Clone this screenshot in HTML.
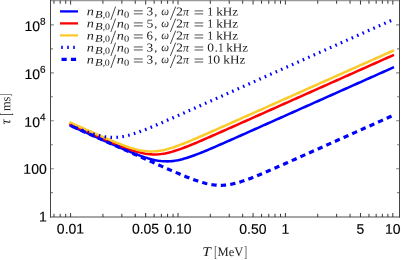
<!DOCTYPE html>
<html><head><meta charset="utf-8"><title>plot</title>
<style>html,body{margin:0;padding:0;background:#fff;}body{width:401px;height:260px;overflow:hidden;position:relative;font-family:"Liberation Sans",sans-serif;}</style>
</head><body>
<svg width="401" height="260" viewBox="0 0 401 260" style="position:absolute;left:0;top:0;will-change:transform">
<rect x="0" y="0" width="401" height="260" fill="#fff"/>
<path d="M70.60 125.70 L72.75 126.66 L74.90 127.61 L77.04 128.57 L79.19 129.53 L81.34 130.49 L83.49 131.44 L85.64 132.40 L87.78 133.36 L89.93 134.31 L92.08 135.27 L94.23 136.22 L96.38 137.18 L98.52 138.13 L100.67 139.08 L102.82 140.03 L104.97 140.98 L107.12 141.93 L109.26 142.88 L111.41 143.82 L113.56 144.76 L115.71 145.70 L117.86 146.63 L120.00 147.56 L122.15 148.48 L124.30 149.39 L126.45 150.29 L128.60 151.19 L130.74 152.07 L132.89 152.94 L135.04 153.79 L137.19 154.61 L139.34 155.42 L141.48 156.19 L143.63 156.94 L145.78 157.64 L147.93 158.31 L150.08 158.92 L152.22 159.48 L154.37 159.97 L156.52 160.40 L158.67 160.76 L160.82 161.04 L162.96 161.23 L165.11 161.34 L167.26 161.36 L169.41 161.29 L171.56 161.14 L173.70 160.90 L175.85 160.58 L178.00 160.19 L180.15 159.72 L182.30 159.19 L184.44 158.60 L186.59 157.96 L188.74 157.28 L190.89 156.55 L193.04 155.79 L195.18 155.00 L197.33 154.18 L199.48 153.34 L201.63 152.48 L203.78 151.61 L205.92 150.72 L208.07 149.82 L210.22 148.91 L212.37 147.99 L214.52 147.07 L216.66 146.14 L218.81 145.20 L220.96 144.27 L223.11 143.32 L225.26 142.38 L227.40 141.43 L229.55 140.48 L231.70 139.53 L233.85 138.58 L236.00 137.63 L238.14 136.67 L240.29 135.72 L242.44 134.76 L244.59 133.81 L246.74 132.85 L248.88 131.90 L251.03 130.94 L253.18 129.98 L255.33 129.02 L257.48 128.07 L259.62 127.11 L261.77 126.15 L263.92 125.19 L266.07 124.24 L268.22 123.28 L270.36 122.32 L272.51 121.36 L274.66 120.40 L276.81 119.45 L278.96 118.49 L281.10 117.53 L283.25 116.57 L285.40 115.61 L287.55 114.65 L289.70 113.70 L291.84 112.74 L293.99 111.78 L296.14 110.82 L298.29 109.86 L300.44 108.90 L302.58 107.95 L304.73 106.99 L306.88 106.03 L309.03 105.07 L311.18 104.11 L313.32 103.15 L315.47 102.19 L317.62 101.24 L319.77 100.28 L321.92 99.32 L324.06 98.36 L326.21 97.40 L328.36 96.44 L330.51 95.49 L332.66 94.53 L334.80 93.57 L336.95 92.61 L339.10 91.65 L341.25 90.69 L343.40 89.74 L345.54 88.78 L347.69 87.82 L349.84 86.86 L351.99 85.90 L354.14 84.94 L356.28 83.99 L358.43 83.03 L360.58 82.07 L362.73 81.11 L364.88 80.15 L367.02 79.19 L369.17 78.23 L371.32 77.28 L373.47 76.32 L375.62 75.36 L377.76 74.40 L379.91 73.44 L382.06 72.48 L384.21 71.53 L386.36 70.57 L388.50 69.61 L390.65 68.65 L392.80 67.69" fill="none" stroke="#0000ff" stroke-width="2.55" stroke-linejoin="round" stroke-linecap="square"/>
<path d="M70.60 124.17 L72.75 125.13 L74.90 126.08 L77.04 127.04 L79.19 128.00 L81.34 128.95 L83.49 129.91 L85.64 130.86 L87.78 131.81 L89.93 132.76 L92.08 133.71 L94.23 134.66 L96.38 135.61 L98.52 136.55 L100.67 137.49 L102.82 138.43 L104.97 139.37 L107.12 140.29 L109.26 141.22 L111.41 142.13 L113.56 143.04 L115.71 143.94 L117.86 144.83 L120.00 145.70 L122.15 146.55 L124.30 147.39 L126.45 148.20 L128.60 148.99 L130.74 149.75 L132.89 150.47 L135.04 151.14 L137.19 151.77 L139.34 152.35 L141.48 152.87 L143.63 153.33 L145.78 153.71 L147.93 154.02 L150.08 154.24 L152.22 154.38 L154.37 154.43 L156.52 154.40 L158.67 154.27 L160.82 154.06 L162.96 153.77 L165.11 153.40 L167.26 152.96 L169.41 152.45 L171.56 151.89 L173.70 151.26 L175.85 150.59 L178.00 149.88 L180.15 149.13 L182.30 148.35 L184.44 147.54 L186.59 146.71 L188.74 145.86 L190.89 144.99 L193.04 144.10 L195.18 143.21 L197.33 142.30 L199.48 141.39 L201.63 140.47 L203.78 139.54 L205.92 138.60 L208.07 137.67 L210.22 136.73 L212.37 135.78 L214.52 134.84 L216.66 133.89 L218.81 132.94 L220.96 131.99 L223.11 131.03 L225.26 130.08 L227.40 129.13 L229.55 128.17 L231.70 127.22 L233.85 126.26 L236.00 125.30 L238.14 124.35 L240.29 123.39 L242.44 122.43 L244.59 121.47 L246.74 120.52 L248.88 119.56 L251.03 118.60 L253.18 117.64 L255.33 116.69 L257.48 115.73 L259.62 114.77 L261.77 113.81 L263.92 112.85 L266.07 111.89 L268.22 110.94 L270.36 109.98 L272.51 109.02 L274.66 108.06 L276.81 107.10 L278.96 106.14 L281.10 105.19 L283.25 104.23 L285.40 103.27 L287.55 102.31 L289.70 101.35 L291.84 100.39 L293.99 99.44 L296.14 98.48 L298.29 97.52 L300.44 96.56 L302.58 95.60 L304.73 94.64 L306.88 93.69 L309.03 92.73 L311.18 91.77 L313.32 90.81 L315.47 89.85 L317.62 88.89 L319.77 87.94 L321.92 86.98 L324.06 86.02 L326.21 85.06 L328.36 84.10 L330.51 83.14 L332.66 82.19 L334.80 81.23 L336.95 80.27 L339.10 79.31 L341.25 78.35 L343.40 77.39 L345.54 76.43 L347.69 75.48 L349.84 74.52 L351.99 73.56 L354.14 72.60 L356.28 71.64 L358.43 70.68 L360.58 69.73 L362.73 68.77 L364.88 67.81 L367.02 66.85 L369.17 65.89 L371.32 64.93 L373.47 63.98 L375.62 63.02 L377.76 62.06 L379.91 61.10 L382.06 60.14 L384.21 59.18 L386.36 58.23 L388.50 57.27 L390.65 56.31 L392.80 55.35" fill="none" stroke="#ff0000" stroke-width="2.55" stroke-linejoin="round" stroke-linecap="square"/>
<path d="M70.60 122.69 L72.75 123.64 L74.90 124.60 L77.04 125.56 L79.19 126.51 L81.34 127.46 L83.49 128.42 L85.64 129.37 L87.78 130.32 L89.93 131.27 L92.08 132.22 L94.23 133.16 L96.38 134.11 L98.52 135.04 L100.67 135.98 L102.82 136.91 L104.97 137.84 L107.12 138.76 L109.26 139.67 L111.41 140.57 L113.56 141.46 L115.71 142.34 L117.86 143.20 L120.00 144.05 L122.15 144.87 L124.30 145.67 L126.45 146.44 L128.60 147.17 L130.74 147.87 L132.89 148.52 L135.04 149.12 L137.19 149.66 L139.34 150.14 L141.48 150.56 L143.63 150.89 L145.78 151.15 L147.93 151.33 L150.08 151.42 L152.22 151.42 L154.37 151.33 L156.52 151.15 L158.67 150.89 L160.82 150.56 L162.96 150.14 L165.11 149.66 L167.26 149.12 L169.41 148.52 L171.56 147.87 L173.70 147.17 L175.85 146.44 L178.00 145.67 L180.15 144.87 L182.30 144.05 L184.44 143.20 L186.59 142.34 L188.74 141.46 L190.89 140.57 L193.04 139.67 L195.18 138.76 L197.33 137.84 L199.48 136.91 L201.63 135.98 L203.78 135.04 L205.92 134.11 L208.07 133.16 L210.22 132.22 L212.37 131.27 L214.52 130.32 L216.66 129.37 L218.81 128.42 L220.96 127.46 L223.11 126.51 L225.26 125.56 L227.40 124.60 L229.55 123.64 L231.70 122.69 L233.85 121.73 L236.00 120.77 L238.14 119.82 L240.29 118.86 L242.44 117.90 L244.59 116.95 L246.74 115.99 L248.88 115.03 L251.03 114.07 L253.18 113.11 L255.33 112.16 L257.48 111.20 L259.62 110.24 L261.77 109.28 L263.92 108.32 L266.07 107.36 L268.22 106.41 L270.36 105.45 L272.51 104.49 L274.66 103.53 L276.81 102.57 L278.96 101.61 L281.10 100.66 L283.25 99.70 L285.40 98.74 L287.55 97.78 L289.70 96.82 L291.84 95.86 L293.99 94.91 L296.14 93.95 L298.29 92.99 L300.44 92.03 L302.58 91.07 L304.73 90.11 L306.88 89.15 L309.03 88.20 L311.18 87.24 L313.32 86.28 L315.47 85.32 L317.62 84.36 L319.77 83.40 L321.92 82.45 L324.06 81.49 L326.21 80.53 L328.36 79.57 L330.51 78.61 L332.66 77.65 L334.80 76.70 L336.95 75.74 L339.10 74.78 L341.25 73.82 L343.40 72.86 L345.54 71.90 L347.69 70.95 L349.84 69.99 L351.99 69.03 L354.14 68.07 L356.28 67.11 L358.43 66.15 L360.58 65.19 L362.73 64.24 L364.88 63.28 L367.02 62.32 L369.17 61.36 L371.32 60.40 L373.47 59.44 L375.62 58.49 L377.76 57.53 L379.91 56.57 L382.06 55.61 L384.21 54.65 L386.36 53.69 L388.50 52.74 L390.65 51.78 L392.80 50.82" fill="none" stroke="#fbcb2b" stroke-width="2.55" stroke-linejoin="round" stroke-linecap="square"/>
<path d="M70.60 125.43 L72.21 126.11 L73.82 126.78 L75.43 127.45 L77.04 128.11 L78.65 128.76 L80.27 129.40 L81.88 130.03 L83.49 130.65 L85.10 131.26 L86.71 131.85 L88.32 132.42 L89.93 132.98 L91.54 133.51 L93.15 134.02 L94.77 134.50 L96.38 134.96 L97.99 135.38 L99.60 135.77 L101.21 136.13 L102.82 136.44 L104.43 136.72 L106.04 136.95 L107.65 137.13 L109.26 137.27 L110.88 137.36 L112.49 137.40 L114.10 137.39 L115.71 137.33 L117.32 137.23 L118.93 137.07 L120.54 136.87 L122.15 136.62 L123.76 136.33 L125.37 136.00 L126.98 135.63 L128.60 135.23 L130.21 134.80 L131.82 134.33 L133.43 133.84 L135.04 133.32 L136.65 132.78 L138.26 132.21 L139.87 131.63 L141.48 131.04 L143.09 130.43 L144.71 129.80 L146.32 129.17 L147.93 128.52 L149.54 127.87 L151.15 127.20 L152.76 126.54 L154.37 125.86 L155.98 125.18 L157.59 124.49 L159.20 123.80 L160.82 123.11 L162.43 122.41 L164.04 121.71 L165.65 121.01 L167.26 120.31 L168.87 119.60 L170.48 118.89 L172.09 118.18 L173.70 117.47 L175.31 116.76 L176.93 116.05 L178.54 115.34 L180.15 114.62 L181.76 113.91 L183.37 113.19 L184.98 112.48 L186.59 111.76 L188.20 111.04 L189.81 110.33 L191.43 109.61 L193.04 108.89 L194.65 108.18 L196.26 107.46 L197.87 106.74 L199.48 106.02 L201.09 105.30 L202.70 104.59 L204.31 103.87 L205.92 103.15 L207.53 102.43 L209.15 101.71 L210.76 100.99 L212.37 100.28 L213.98 99.56 L215.59 98.84 L217.20 98.12 L218.81 97.40 L220.42 96.68 L222.03 95.96 L223.65 95.25 L225.26 94.53 L226.87 93.81 L228.48 93.09 L230.09 92.37 L231.70 91.65 L233.31 90.93 L234.92 90.21 L236.53 89.50 L238.14 88.78 L239.75 88.06 L241.37 87.34 L242.98 86.62 L244.59 85.90 L246.20 85.18 L247.81 84.46 L249.42 83.75 L251.03 83.03 L252.64 82.31 L254.25 81.59 L255.87 80.87 L257.48 80.15 L259.09 79.43 L260.70 78.71 L262.31 78.00 L263.92 77.28 L265.53 76.56 L267.14 75.84 L268.75 75.12 L270.36 74.40 L271.98 73.68 L273.59 72.96 L275.20 72.24 L276.81 71.53 L278.42 70.81 L280.03 70.09 L281.64 69.37 L283.25 68.65 L284.86 67.93 L286.47 67.21 L288.09 66.49 L289.70 65.78 L291.31 65.06 L292.92 64.34 L294.53 63.62 L296.14 62.90 L297.75 62.18 L299.36 61.46 L300.97 60.74 L302.58 60.03 L304.19 59.31 L305.81 58.59 L307.42 57.87 L309.03 57.15 L310.64 56.43 L312.25 55.71 L313.86 54.99 L315.47 54.27 L317.08 53.56 L318.69 52.84 L320.31 52.12 L321.92 51.40 L323.53 50.68 L325.14 49.96 L326.75 49.24 L328.36 48.52 L329.97 47.81 L331.58 47.09 L333.19 46.37 L334.80 45.65 L336.41 44.93 L338.03 44.21 L339.64 43.49 L341.25 42.77 L342.86 42.06 L344.47 41.34 L346.08 40.62 L347.69 39.90 L349.30 39.18 L350.91 38.46 L352.52 37.74 L354.14 37.02 L355.75 36.30 L357.36 35.59 L358.97 34.87 L360.58 34.15 L362.19 33.43 L363.80 32.71 L365.41 31.99 L367.02 31.27 L368.63 30.55 L370.25 29.84 L371.86 29.12 L373.47 28.40 L375.08 27.68 L376.69 26.96 L378.30 26.24 L379.91 25.52 L381.52 24.80 L383.13 24.09 L384.75 23.37 L386.36 22.65 L387.97 21.93 L389.58 21.21 L391.19 20.49 L392.80 19.77" fill="none" stroke="#0000ff" stroke-width="3.20" stroke-dasharray="1.600 4.347" stroke-dashoffset="-0.18"/>
<path d="M70.60 125.70 L72.21 126.42 L73.82 127.14 L75.43 127.86 L77.04 128.58 L78.65 129.29 L80.27 130.01 L81.88 130.73 L83.49 131.45 L85.10 132.17 L86.71 132.89 L88.32 133.61 L89.93 134.33 L91.54 135.05 L93.15 135.76 L94.77 136.48 L96.38 137.20 L97.99 137.92 L99.60 138.64 L101.21 139.36 L102.82 140.08 L104.43 140.80 L106.04 141.51 L107.65 142.23 L109.26 142.95 L110.88 143.67 L112.49 144.39 L114.10 145.11 L115.71 145.83 L117.32 146.54 L118.93 147.26 L120.54 147.98 L122.15 148.70 L123.76 149.42 L125.37 150.14 L126.98 150.86 L128.60 151.57 L130.21 152.29 L131.82 153.01 L133.43 153.73 L135.04 154.45 L136.65 155.16 L138.26 155.88 L139.87 156.60 L141.48 157.32 L143.09 158.03 L144.71 158.75 L146.32 159.47 L147.93 160.18 L149.54 160.90 L151.15 161.61 L152.76 162.33 L154.37 163.04 L155.98 163.76 L157.59 164.47 L159.20 165.18 L160.82 165.89 L162.43 166.60 L164.04 167.31 L165.65 168.02 L167.26 168.72 L168.87 169.42 L170.48 170.12 L172.09 170.82 L173.70 171.52 L175.31 172.21 L176.93 172.89 L178.54 173.58 L180.15 174.25 L181.76 174.93 L183.37 175.59 L184.98 176.25 L186.59 176.90 L188.20 177.54 L189.81 178.16 L191.43 178.78 L193.04 179.38 L194.65 179.96 L196.26 180.53 L197.87 181.08 L199.48 181.60 L201.09 182.10 L202.70 182.58 L204.31 183.02 L205.92 183.44 L207.53 183.82 L209.15 184.16 L210.76 184.46 L212.37 184.72 L213.98 184.94 L215.59 185.10 L217.20 185.23 L218.81 185.30 L220.42 185.32 L222.03 185.30 L223.65 185.22 L225.26 185.10 L226.87 184.93 L228.48 184.71 L230.09 184.45 L231.70 184.15 L233.31 183.80 L234.92 183.42 L236.53 183.01 L238.14 182.56 L239.75 182.09 L241.37 181.59 L242.98 181.06 L244.59 180.51 L246.20 179.94 L247.81 179.36 L249.42 178.76 L251.03 178.14 L252.64 177.51 L254.25 176.87 L255.87 176.22 L257.48 175.57 L259.09 174.90 L260.70 174.23 L262.31 173.55 L263.92 172.87 L265.53 172.18 L267.14 171.49 L268.75 170.80 L270.36 170.10 L271.98 169.40 L273.59 168.70 L275.20 167.99 L276.81 167.28 L278.42 166.58 L280.03 165.87 L281.64 165.16 L283.25 164.44 L284.86 163.73 L286.47 163.02 L288.09 162.30 L289.70 161.59 L291.31 160.87 L292.92 160.16 L294.53 159.44 L296.14 158.72 L297.75 158.01 L299.36 157.29 L300.97 156.57 L302.58 155.86 L304.19 155.14 L305.81 154.42 L307.42 153.70 L309.03 152.98 L310.64 152.27 L312.25 151.55 L313.86 150.83 L315.47 150.11 L317.08 149.39 L318.69 148.67 L320.31 147.96 L321.92 147.24 L323.53 146.52 L325.14 145.80 L326.75 145.08 L328.36 144.36 L329.97 143.64 L331.58 142.93 L333.19 142.21 L334.80 141.49 L336.41 140.77 L338.03 140.05 L339.64 139.33 L341.25 138.61 L342.86 137.89 L344.47 137.18 L346.08 136.46 L347.69 135.74 L349.30 135.02 L350.91 134.30 L352.52 133.58 L354.14 132.86 L355.75 132.14 L357.36 131.43 L358.97 130.71 L360.58 129.99 L362.19 129.27 L363.80 128.55 L365.41 127.83 L367.02 127.11 L368.63 126.39 L370.25 125.68 L371.86 124.96 L373.47 124.24 L375.08 123.52 L376.69 122.80 L378.30 122.08 L379.91 121.36 L381.52 120.64 L383.13 119.93 L384.75 119.21 L386.36 118.49 L387.97 117.77 L389.58 117.05 L391.19 116.33 L392.80 115.61" fill="none" stroke="#0000ff" stroke-width="3.20" stroke-dasharray="5.300 4.150" stroke-dashoffset="-1.60"/>
<path d="M50.05 0.6 H400.00" stroke="#999" stroke-width="1.3" fill="none"/>
<path d="M50.05 217.00 H400.00" stroke="#888" stroke-width="1.5" fill="none"/>
<path d="M50.50 0 V217.60 M399.50 0 V217.60" stroke="#444" stroke-width="1" fill="none"/>
<path d="M53.96 217.00 v-3.20 M53.96 0.60 v3.20 M60.19 217.00 v-3.20 M60.19 0.60 v3.20 M65.69 217.00 v-3.20 M65.69 0.60 v3.20 M70.60 217.00 v-4.00 M70.60 0.60 v4.00 M102.93 217.00 v-3.20 M102.93 0.60 v3.20 M121.84 217.00 v-3.20 M121.84 0.60 v3.20 M135.26 217.00 v-3.20 M135.26 0.60 v3.20 M145.67 217.00 v-4.00 M145.67 0.60 v4.00 M154.17 217.00 v-3.20 M154.17 0.60 v3.20 M161.36 217.00 v-3.20 M161.36 0.60 v3.20 M167.59 217.00 v-3.20 M167.59 0.60 v3.20 M173.09 217.00 v-3.20 M173.09 0.60 v3.20 M178.00 217.00 v-4.00 M178.00 0.60 v4.00 M210.33 217.00 v-3.20 M210.33 0.60 v3.20 M229.24 217.00 v-3.20 M229.24 0.60 v3.20 M242.66 217.00 v-3.20 M242.66 0.60 v3.20 M253.07 217.00 v-4.00 M253.07 0.60 v4.00 M261.57 217.00 v-3.20 M261.57 0.60 v3.20 M268.76 217.00 v-3.20 M268.76 0.60 v3.20 M274.99 217.00 v-3.20 M274.99 0.60 v3.20 M280.49 217.00 v-3.20 M280.49 0.60 v3.20 M285.40 217.00 v-4.00 M285.40 0.60 v4.00 M317.73 217.00 v-3.20 M317.73 0.60 v3.20 M336.64 217.00 v-3.20 M336.64 0.60 v3.20 M350.06 217.00 v-3.20 M350.06 0.60 v3.20 M360.47 217.00 v-4.00 M360.47 0.60 v4.00 M368.97 217.00 v-3.20 M368.97 0.60 v3.20 M376.16 217.00 v-3.20 M376.16 0.60 v3.20 M382.39 217.00 v-3.20 M382.39 0.60 v3.20 M387.89 217.00 v-3.20 M387.89 0.60 v3.20 M392.80 217.00 v-4.00 M392.80 0.60 v4.00" stroke="#222" stroke-width="0.9" fill="none"/>
<path d="M51.00 192.64 h2.00 M399.00 192.64 h-2.00 M51.00 168.68 h2.90 M399.00 168.68 h-2.90 M51.00 144.72 h2.00 M399.00 144.72 h-2.00 M51.00 120.76 h2.90 M399.00 120.76 h-2.90 M51.00 96.80 h2.00 M399.00 96.80 h-2.00 M51.00 72.84 h2.90 M399.00 72.84 h-2.90 M51.00 48.88 h2.00 M399.00 48.88 h-2.00 M51.00 24.92 h2.90 M399.00 24.92 h-2.90" stroke="#888" stroke-width="1.1" fill="none"/>
<g font-family="Liberation Sans, sans-serif" font-size="14" fill="#000" stroke="#000" stroke-width="0.15" transform="rotate(0.03)">
<text x="70.60" y="233.5" text-anchor="middle">0.01</text>
<text x="145.67" y="233.5" text-anchor="middle">0.05</text>
<text x="178.00" y="233.5" text-anchor="middle">0.10</text>
<text x="253.07" y="233.5" text-anchor="middle">0.50</text>
<text x="285.40" y="233.5" text-anchor="middle">1</text>
<text x="360.47" y="233.5" text-anchor="middle">5</text>
<text x="392.80" y="233.5" text-anchor="middle">10</text>
<text x="46.8" y="221.60" text-anchor="end">1</text>
<text x="46.8" y="173.68" text-anchor="end">100</text>
<text x="40.0" y="126.86" text-anchor="end">10</text>
<text x="40.0" y="120.56" font-size="10">4</text>
<text x="40.0" y="78.94" text-anchor="end">10</text>
<text x="40.0" y="72.64" font-size="10">6</text>
<text x="40.0" y="31.02" text-anchor="end">10</text>
<text x="40.0" y="24.72" font-size="10">8</text>
</g>
<g font-family="Liberation Serif, serif" fill="#1c1c1c" text-rendering="geometricPrecision" transform="rotate(0.03)">
<text x="202.39" y="256.00" font-size="13.20" textLength="8.60" lengthAdjust="spacingAndGlyphs" font-style="italic">T</text>
<text x="214.50" y="256.70" font-size="15.50" textLength="2.69" lengthAdjust="spacingAndGlyphs">[</text>
<text x="217.64" y="256.00" font-size="13.00" textLength="25.80" lengthAdjust="spacingAndGlyphs">MeV</text>
<text x="244.31" y="256.70" font-size="15.50" textLength="2.69" lengthAdjust="spacingAndGlyphs">]</text>
</g>
<g font-family="Liberation Serif, serif" fill="#1c1c1c" text-rendering="geometricPrecision" transform="translate(10.2 124.5) rotate(-90.03)">
<text x="-0.12" y="0.00" font-size="14.50" textLength="5.28" lengthAdjust="spacingAndGlyphs" font-style="italic">τ</text>
<text x="8.93" y="0.30" font-size="15.50" textLength="2.54" lengthAdjust="spacingAndGlyphs">[</text>
<text x="13.44" y="0.00" font-size="12.80" textLength="14.41" lengthAdjust="spacingAndGlyphs">ms</text>
<text x="28.34" y="0.30" font-size="15.50" textLength="2.39" lengthAdjust="spacingAndGlyphs">]</text>
</g>
<path d="M60 11.40 H78" stroke="#0000ff" stroke-width="2.30" fill="none"/>
<path d="M60 23.40 H78" stroke="#ff0000" stroke-width="2.30" fill="none"/>
<path d="M60 35.40 H78" stroke="#fbcb2b" stroke-width="2.30" fill="none"/>
<path d="M61.20 47.40 h1.6 M67.20 47.40 h1.6 M73.20 47.40 h1.6" stroke="#0000ff" stroke-width="3.20" fill="none"/>
<path d="M61.5 59.40 H66.7 M70.9 59.40 H76.1" stroke="#0000ff" stroke-width="3.20" fill="none"/>
<g font-family="Liberation Serif, serif" fill="#1c1c1c" text-rendering="geometricPrecision" transform="rotate(0.03)">
<text x="86.69" y="15.30" font-size="12.00" textLength="7.21" lengthAdjust="spacingAndGlyphs" font-style="italic">n</text>
<text x="95.08" y="17.60" font-size="10.20" textLength="7.59" lengthAdjust="spacingAndGlyphs" font-style="italic">B</text>
<text x="102.73" y="17.60" font-size="9.60">,</text>
<text x="104.92" y="17.60" font-size="9.60" textLength="4.95" lengthAdjust="spacingAndGlyphs">0</text>
<path d="M110.90 19.80 L115.60 6.50" stroke="#1c1c1c" stroke-width="0.8" fill="none"/>
<text x="116.69" y="15.30" font-size="12.00" textLength="7.21" lengthAdjust="spacingAndGlyphs" font-style="italic">n</text>
<text x="124.10" y="17.60" font-size="9.60" textLength="5.19" lengthAdjust="spacingAndGlyphs">0</text>
<path d="M133.90 10.80 H142.80 M133.90 13.80 H142.80" stroke="#1c1c1c" stroke-width="0.75" fill="none"/>
<text x="146.56" y="15.30" font-size="12.00" textLength="6.66" lengthAdjust="spacingAndGlyphs">3</text>
<text x="154.34" y="15.30" font-size="12.00">,</text>
<text x="161.24" y="15.30" font-size="12.00" textLength="7.75" lengthAdjust="spacingAndGlyphs" font-style="italic">ω</text>
<path d="M170.40 19.80 L175.70 6.50" stroke="#1c1c1c" stroke-width="0.8" fill="none"/>
<text x="176.09" y="15.30" font-size="12.00" textLength="6.98" lengthAdjust="spacingAndGlyphs">2</text>
<text x="183.14" y="15.30" font-size="12.00" textLength="5.89" lengthAdjust="spacingAndGlyphs" font-style="italic">π</text>
<path d="M194.60 10.80 H203.20 M194.60 13.80 H203.20" stroke="#1c1c1c" stroke-width="0.75" fill="none"/>
<text x="207.25" y="15.30" font-size="12.00" textLength="5.97" lengthAdjust="spacingAndGlyphs">1</text>
<text x="216.25" y="15.30" font-size="12.00" textLength="21.92" lengthAdjust="spacingAndGlyphs">kHz</text>
<text x="86.69" y="27.33" font-size="12.00" textLength="7.21" lengthAdjust="spacingAndGlyphs" font-style="italic">n</text>
<text x="95.08" y="29.63" font-size="10.20" textLength="7.59" lengthAdjust="spacingAndGlyphs" font-style="italic">B</text>
<text x="102.73" y="29.63" font-size="9.60">,</text>
<text x="104.92" y="29.63" font-size="9.60" textLength="4.95" lengthAdjust="spacingAndGlyphs">0</text>
<path d="M110.90 31.83 L115.60 18.53" stroke="#1c1c1c" stroke-width="0.8" fill="none"/>
<text x="116.69" y="27.33" font-size="12.00" textLength="7.21" lengthAdjust="spacingAndGlyphs" font-style="italic">n</text>
<text x="124.10" y="29.63" font-size="9.60" textLength="5.19" lengthAdjust="spacingAndGlyphs">0</text>
<path d="M133.90 22.83 H142.80 M133.90 25.83 H142.80" stroke="#1c1c1c" stroke-width="0.75" fill="none"/>
<text x="146.41" y="27.33" font-size="12.00" textLength="6.83" lengthAdjust="spacingAndGlyphs">5</text>
<text x="154.34" y="27.33" font-size="12.00">,</text>
<text x="161.24" y="27.33" font-size="12.00" textLength="7.75" lengthAdjust="spacingAndGlyphs" font-style="italic">ω</text>
<path d="M170.40 31.83 L175.70 18.53" stroke="#1c1c1c" stroke-width="0.8" fill="none"/>
<text x="176.09" y="27.33" font-size="12.00" textLength="6.98" lengthAdjust="spacingAndGlyphs">2</text>
<text x="183.14" y="27.33" font-size="12.00" textLength="5.89" lengthAdjust="spacingAndGlyphs" font-style="italic">π</text>
<path d="M194.60 22.83 H203.20 M194.60 25.83 H203.20" stroke="#1c1c1c" stroke-width="0.75" fill="none"/>
<text x="207.25" y="27.33" font-size="12.00" textLength="5.97" lengthAdjust="spacingAndGlyphs">1</text>
<text x="216.25" y="27.33" font-size="12.00" textLength="21.92" lengthAdjust="spacingAndGlyphs">kHz</text>
<text x="86.69" y="39.36" font-size="12.00" textLength="7.21" lengthAdjust="spacingAndGlyphs" font-style="italic">n</text>
<text x="95.08" y="41.66" font-size="10.20" textLength="7.59" lengthAdjust="spacingAndGlyphs" font-style="italic">B</text>
<text x="102.73" y="41.66" font-size="9.60">,</text>
<text x="104.92" y="41.66" font-size="9.60" textLength="4.95" lengthAdjust="spacingAndGlyphs">0</text>
<path d="M110.90 43.86 L115.60 30.56" stroke="#1c1c1c" stroke-width="0.8" fill="none"/>
<text x="116.69" y="39.36" font-size="12.00" textLength="7.21" lengthAdjust="spacingAndGlyphs" font-style="italic">n</text>
<text x="124.10" y="41.66" font-size="9.60" textLength="5.19" lengthAdjust="spacingAndGlyphs">0</text>
<path d="M133.90 34.86 H142.80 M133.90 37.86 H142.80" stroke="#1c1c1c" stroke-width="0.75" fill="none"/>
<text x="146.65" y="39.36" font-size="12.00" textLength="6.44" lengthAdjust="spacingAndGlyphs">6</text>
<text x="154.34" y="39.36" font-size="12.00">,</text>
<text x="161.24" y="39.36" font-size="12.00" textLength="7.75" lengthAdjust="spacingAndGlyphs" font-style="italic">ω</text>
<path d="M170.40 43.86 L175.70 30.56" stroke="#1c1c1c" stroke-width="0.8" fill="none"/>
<text x="176.09" y="39.36" font-size="12.00" textLength="6.98" lengthAdjust="spacingAndGlyphs">2</text>
<text x="183.14" y="39.36" font-size="12.00" textLength="5.89" lengthAdjust="spacingAndGlyphs" font-style="italic">π</text>
<path d="M194.60 34.86 H203.20 M194.60 37.86 H203.20" stroke="#1c1c1c" stroke-width="0.75" fill="none"/>
<text x="207.25" y="39.36" font-size="12.00" textLength="5.97" lengthAdjust="spacingAndGlyphs">1</text>
<text x="216.25" y="39.36" font-size="12.00" textLength="21.92" lengthAdjust="spacingAndGlyphs">kHz</text>
<text x="86.69" y="51.39" font-size="12.00" textLength="7.21" lengthAdjust="spacingAndGlyphs" font-style="italic">n</text>
<text x="95.08" y="53.69" font-size="10.20" textLength="7.59" lengthAdjust="spacingAndGlyphs" font-style="italic">B</text>
<text x="102.73" y="53.69" font-size="9.60">,</text>
<text x="104.92" y="53.69" font-size="9.60" textLength="4.95" lengthAdjust="spacingAndGlyphs">0</text>
<path d="M110.90 55.89 L115.60 42.59" stroke="#1c1c1c" stroke-width="0.8" fill="none"/>
<text x="116.69" y="51.39" font-size="12.00" textLength="7.21" lengthAdjust="spacingAndGlyphs" font-style="italic">n</text>
<text x="124.10" y="53.69" font-size="9.60" textLength="5.19" lengthAdjust="spacingAndGlyphs">0</text>
<path d="M133.90 46.89 H142.80 M133.90 49.89 H142.80" stroke="#1c1c1c" stroke-width="0.75" fill="none"/>
<text x="146.56" y="51.39" font-size="12.00" textLength="6.66" lengthAdjust="spacingAndGlyphs">3</text>
<text x="154.34" y="51.39" font-size="12.00">,</text>
<text x="161.24" y="51.39" font-size="12.00" textLength="7.75" lengthAdjust="spacingAndGlyphs" font-style="italic">ω</text>
<path d="M170.40 55.89 L175.70 42.59" stroke="#1c1c1c" stroke-width="0.8" fill="none"/>
<text x="176.09" y="51.39" font-size="12.00" textLength="6.98" lengthAdjust="spacingAndGlyphs">2</text>
<text x="183.14" y="51.39" font-size="12.00" textLength="5.89" lengthAdjust="spacingAndGlyphs" font-style="italic">π</text>
<path d="M194.60 46.89 H203.20 M194.60 49.89 H203.20" stroke="#1c1c1c" stroke-width="0.75" fill="none"/>
<text x="207.19" y="51.39" font-size="12.00" textLength="6.72" lengthAdjust="spacingAndGlyphs">0</text>
<text x="214.81" y="51.39" font-size="12.00">.</text>
<text x="217.96" y="51.39" font-size="12.00" textLength="5.61" lengthAdjust="spacingAndGlyphs">1</text>
<text x="226.25" y="51.39" font-size="12.00" textLength="21.92" lengthAdjust="spacingAndGlyphs">kHz</text>
<text x="86.69" y="63.42" font-size="12.00" textLength="7.21" lengthAdjust="spacingAndGlyphs" font-style="italic">n</text>
<text x="95.08" y="65.72" font-size="10.20" textLength="7.59" lengthAdjust="spacingAndGlyphs" font-style="italic">B</text>
<text x="102.73" y="65.72" font-size="9.60">,</text>
<text x="104.92" y="65.72" font-size="9.60" textLength="4.95" lengthAdjust="spacingAndGlyphs">0</text>
<path d="M110.90 67.92 L115.60 54.62" stroke="#1c1c1c" stroke-width="0.8" fill="none"/>
<text x="116.69" y="63.42" font-size="12.00" textLength="7.21" lengthAdjust="spacingAndGlyphs" font-style="italic">n</text>
<text x="124.10" y="65.72" font-size="9.60" textLength="5.19" lengthAdjust="spacingAndGlyphs">0</text>
<path d="M133.90 58.92 H142.80 M133.90 61.92 H142.80" stroke="#1c1c1c" stroke-width="0.75" fill="none"/>
<text x="146.56" y="63.42" font-size="12.00" textLength="6.66" lengthAdjust="spacingAndGlyphs">3</text>
<text x="154.34" y="63.42" font-size="12.00">,</text>
<text x="161.24" y="63.42" font-size="12.00" textLength="7.75" lengthAdjust="spacingAndGlyphs" font-style="italic">ω</text>
<path d="M170.40 67.92 L175.70 54.62" stroke="#1c1c1c" stroke-width="0.8" fill="none"/>
<text x="176.09" y="63.42" font-size="12.00" textLength="6.98" lengthAdjust="spacingAndGlyphs">2</text>
<text x="183.14" y="63.42" font-size="12.00" textLength="5.89" lengthAdjust="spacingAndGlyphs" font-style="italic">π</text>
<path d="M194.60 58.92 H203.20 M194.60 61.92 H203.20" stroke="#1c1c1c" stroke-width="0.75" fill="none"/>
<text x="207.25" y="63.42" font-size="12.00" textLength="5.97" lengthAdjust="spacingAndGlyphs">1</text>
<text x="213.42" y="63.42" font-size="12.00" textLength="6.90" lengthAdjust="spacingAndGlyphs">0</text>
<text x="223.35" y="63.42" font-size="12.00" textLength="21.92" lengthAdjust="spacingAndGlyphs">kHz</text>
</g>
</svg>
</body></html>
